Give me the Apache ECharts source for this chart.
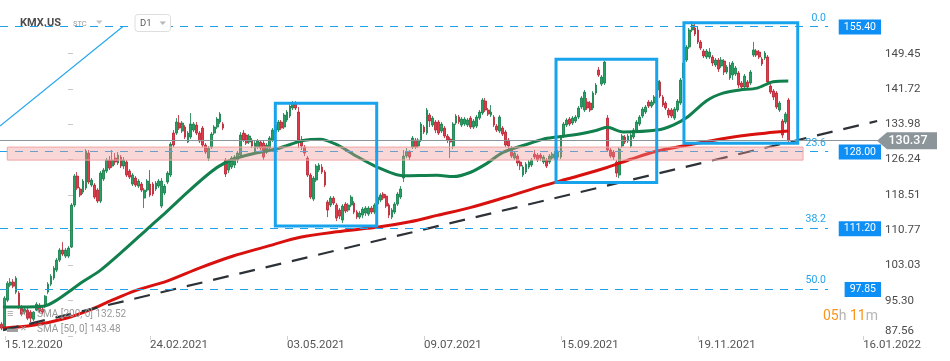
<!DOCTYPE html>
<html><head><meta charset="utf-8">
<script src="https://cdn.jsdelivr.net/npm/echarts@6/dist/echarts.min.js"></script>
<style>html,body{margin:0;padding:0;background:#fff}#c{width:950px;height:361px}</style>
</head><body><div id="c"></div>
<script>
// ---- data (candles: [open, close, low, high]) ----
const candles = [
[90.16,89.28,88.84,90.60],[89.28,95.86,88.84,96.30],[95.42,99.15,94.98,99.59],[98.71,99.37,98.27,100.25],[99.37,98.49,98.05,100.03],
[97.18,100.25,96.74,100.68],[96.96,94.11,93.45,97.39],[93.89,92.35,91.91,94.33],[92.79,93.45,92.35,93.89],[93.23,91.47,91.04,93.67],
[92.79,91.47,90.60,93.23],[91.25,92.79,90.82,93.01],[93.23,94.54,93.01,94.98],[94.33,93.01,92.57,94.76],[93.45,92.79,92.35,93.89],
[94.11,96.30,93.67,96.52],[97.18,98.93,96.74,99.37],[98.93,100.68,98.49,101.12],[100.25,102.44,99.81,102.88],[102.00,104.20,101.56,104.63],
[104.20,106.39,103.75,106.83],[106.39,105.51,105.07,108.14],[105.07,106.39,104.63,106.83],[105.07,106.83,104.63,107.26],[107.05,116.26,106.83,116.69],
[116.26,122.62,115.82,123.06],[122.62,119.99,119.55,123.49],[119.77,118.45,118.01,120.20],[119.11,121.52,118.67,121.96],[119.99,128.10,119.55,128.54],
[127.66,121.30,120.86,128.32],[120.64,121.74,120.20,122.18],[120.64,118.01,117.57,121.08],[119.55,117.13,116.69,119.99],[117.13,123.27,116.69,123.71],
[121.96,123.93,121.52,124.37],[123.71,126.13,123.27,126.56],[126.13,124.37,123.93,127.00],[124.81,126.13,124.37,128.32],[126.56,125.69,125.03,127.66],
[125.47,127.22,125.03,127.88],[126.78,124.81,124.37,127.22],[124.81,126.13,124.15,126.78],[125.69,122.84,122.40,126.13],[123.71,122.40,121.96,124.15],
[120.86,122.84,120.42,123.27],[122.18,120.64,120.20,122.62],[120.42,121.52,119.99,121.96],[120.86,119.55,119.11,121.30],[117.79,119.55,115.60,119.99],
[119.55,121.52,119.11,121.96],[120.86,118.45,118.01,123.93],[120.86,118.67,118.23,121.30],[119.77,121.08,119.33,121.52],[120.42,121.52,119.99,121.96],
[116.04,121.52,115.60,122.18],[118.89,120.42,118.45,120.86],[121.30,123.27,120.86,123.71],[122.84,129.63,122.40,130.07],[132.04,129.41,128.97,132.70],
[132.04,134.46,131.61,135.33],[134.24,133.14,132.70,135.99],[132.48,134.24,132.04,134.68],[133.36,131.17,130.73,133.80],[130.07,132.04,129.85,132.48],
[131.17,134.02,130.73,136.43],[132.70,134.02,132.26,134.46],[133.80,132.04,131.61,134.46],[132.04,130.29,129.85,132.48],[133.14,129.41,128.97,133.58],
[129.41,127.88,127.44,129.85],[126.56,128.76,125.91,129.19],[128.97,131.83,128.54,132.26],[132.04,133.36,131.61,133.80],[133.36,135.11,132.92,135.55],
[134.46,136.21,134.02,136.65],[134.02,133.14,132.70,134.46],[126.13,123.06,122.40,126.56],[123.93,125.91,123.27,126.34],[124.59,126.56,124.15,127.00],
[125.03,126.78,124.37,127.22],[126.13,127.66,125.47,128.10],[127.22,131.61,126.78,132.26],[132.04,130.51,130.07,132.70],[131.61,129.85,129.41,132.04],
[130.07,131.39,129.63,131.83],[130.51,129.19,128.76,130.95],[127.88,129.85,127.44,130.29],[128.97,130.29,128.54,130.73],[130.07,128.76,128.32,130.51],
[129.85,126.78,126.13,130.29],[127.88,129.41,127.44,129.85],[128.76,130.95,128.32,131.39],[130.51,132.70,130.07,133.14],[132.26,133.80,131.83,134.46],
[132.70,134.46,132.26,134.90],[134.46,133.14,132.70,134.90],[133.36,135.99,132.92,136.43],[134.90,136.65,134.46,137.09],[135.77,137.96,135.33,138.40],
[137.53,138.62,137.09,139.06],[138.40,137.53,137.09,139.06],[136.65,130.51,128.76,137.75],[130.51,129.19,128.32,131.39],[128.97,127.66,127.00,129.41],
[126.56,122.84,122.40,127.00],[122.84,118.01,117.57,123.27],[117.57,122.18,117.13,122.62],[121.74,124.81,121.30,125.25],[123.93,125.03,123.49,125.47],
[124.59,123.49,123.06,125.25],[123.49,120.64,120.20,123.93],[116.91,115.16,113.62,117.35],[116.26,117.79,115.82,118.23],[117.79,116.69,116.26,118.23],
[116.26,113.40,112.75,116.69],[115.16,113.84,113.18,115.60],[112.97,116.04,112.31,116.47],[116.47,114.94,114.50,116.91],[115.16,116.26,114.72,116.69],
[116.26,118.01,115.82,118.45],[116.69,114.72,114.28,117.13],[114.72,113.62,113.18,115.16],[113.62,114.50,113.18,114.94],[114.06,115.38,113.40,115.82],
[114.50,115.60,113.84,116.04],[114.28,115.60,113.84,116.04],[115.60,114.72,114.28,116.04],[114.72,116.26,114.28,116.69],[116.47,118.01,116.04,118.45],
[117.35,118.45,116.91,118.89],[118.67,117.79,117.35,119.11],[118.23,116.04,115.60,118.67],[116.26,114.06,113.40,116.69],[113.62,115.16,113.18,115.60],
[114.72,116.47,114.28,116.91],[116.47,118.67,116.04,119.11],[118.01,119.77,117.57,120.42],[122.18,127.00,121.30,128.32],[127.00,127.88,126.56,128.76],
[127.88,126.78,126.13,128.32],[128.97,130.95,128.54,131.39],[130.51,128.97,128.54,130.95],[129.19,130.51,128.76,130.95],[130.51,134.02,130.07,134.46],
[133.36,132.26,131.83,133.80],[132.04,137.09,131.61,137.53],[135.99,134.68,133.36,136.43],[133.80,135.33,133.36,135.77],[134.46,132.70,132.04,134.90],
[134.46,132.04,131.61,134.90],[132.48,134.02,132.04,134.46],[133.14,131.39,130.95,133.58],[131.39,130.51,129.85,131.83],[130.73,130.07,126.56,131.17],
[129.19,134.02,128.54,134.46],[134.24,135.77,133.80,136.21],[135.55,134.46,134.02,135.99],[133.80,135.11,133.36,135.55],[134.02,135.11,133.58,135.55],
[133.80,134.90,133.36,135.33],[135.33,133.36,132.92,135.77],[133.36,134.68,132.92,135.11],[133.58,135.55,133.14,135.99],[135.33,136.65,134.90,137.09],
[136.43,139.28,135.99,139.72],[139.06,137.09,136.65,139.72],[137.09,136.21,135.77,137.53],[135.99,136.65,135.55,138.18],[135.55,133.80,133.36,135.99],
[133.58,132.70,132.26,134.02],[132.48,135.55,132.04,135.99],[133.14,131.83,131.39,133.58],[132.26,129.41,128.97,132.70],[130.51,129.19,128.54,130.95],
[128.76,127.00,126.56,129.19],[126.56,127.66,126.13,128.10],[127.00,125.47,124.81,127.44],[125.69,124.81,123.93,126.13],[122.84,124.59,122.40,125.03],
[123.49,125.25,123.06,125.69],[124.59,125.69,124.15,126.13],[125.03,126.13,124.59,126.56],[127.44,126.78,126.34,128.32],[127.22,126.13,125.69,127.66],
[127.22,126.56,125.91,127.66],[125.69,126.78,125.25,127.22],[126.13,124.81,124.37,126.56],[125.69,127.00,125.25,127.44],[126.56,127.44,126.13,127.88],
[126.56,127.66,126.13,128.10],[126.78,127.88,126.13,128.32],[126.78,131.17,126.34,131.61],[131.39,134.02,130.95,134.46],[133.80,134.90,133.36,135.33],
[135.11,134.02,133.58,135.55],[134.24,135.33,133.80,135.77],[134.68,135.55,134.24,135.99],[135.55,137.53,135.11,137.96],[137.75,139.72,137.31,140.16],
[137.09,141.03,136.65,141.47],[138.84,137.53,137.09,139.72],[138.62,137.09,136.65,139.06],[137.53,140.82,137.09,141.25],[140.82,142.57,140.38,143.01],
[145.86,144.76,144.33,146.52],[142.79,144.33,142.35,144.76],[143.01,147.61,142.57,147.83],[135.33,128.32,127.88,135.99],[128.32,127.00,126.56,128.76],
[127.88,126.78,126.13,128.32],[125.69,123.27,122.40,126.13],[122.84,128.54,122.18,128.97],[129.19,131.39,128.76,131.83],[131.17,130.07,129.63,131.61],
[130.29,131.39,129.85,131.83],[129.19,131.61,128.76,132.04],[131.17,132.70,130.73,133.14],[132.70,134.46,132.26,134.90],[134.02,135.55,133.58,135.99],
[135.77,137.31,135.33,137.75],[136.65,137.75,136.21,138.18],[138.84,137.96,137.53,139.28],[137.96,138.84,137.53,139.28],[138.62,139.94,138.18,140.38],
[141.47,143.45,141.03,143.89],[143.23,140.16,139.72,143.67],[139.94,138.18,137.75,140.38],[138.62,137.53,137.09,139.06],[137.09,135.99,135.33,137.53],
[137.09,135.77,135.33,137.53],[135.33,137.31,134.90,137.75],[137.09,139.06,136.65,139.50],[138.62,143.67,138.18,144.11],[144.11,147.40,143.67,147.83],
[148.05,150.90,147.61,151.34],[150.90,154.63,150.47,155.07],[154.63,155.73,154.19,156.61],[155.07,153.75,153.32,156.17],[154.63,152.00,151.56,155.29],
[152.00,150.68,150.25,152.44],[150.03,148.93,148.49,150.47],[148.71,150.03,148.27,150.47],[148.71,149.81,148.27,150.68],[148.71,147.40,146.74,149.15],
[146.96,148.05,146.52,148.49],[148.05,146.08,145.42,148.49],[146.74,148.05,146.30,148.71],[147.83,145.42,144.76,148.27],[145.42,146.52,144.98,146.96],
[144.11,146.96,143.67,147.61],[144.76,147.40,143.67,147.83],[144.98,146.30,144.54,146.74],[145.20,142.57,141.91,145.64],[143.01,142.13,141.69,143.45],
[142.13,144.54,141.69,144.98],[143.23,142.13,141.69,143.67],[143.01,145.42,142.57,145.86],[149.15,150.25,148.71,152.00],[150.03,149.15,148.71,150.47],
[149.81,148.71,148.27,150.25],[148.27,147.18,146.74,148.71],[148.49,149.59,148.05,150.03],[148.71,143.23,142.79,149.15],[142.35,141.03,140.60,142.79],
[141.25,139.94,139.28,141.69],[140.82,137.75,137.31,141.25],[137.09,138.62,136.65,139.06],[134.68,131.61,130.95,135.11],[134.46,136.21,134.02,136.65],
[139.28,130.37,129.85,139.72]
];
const sma50 = [[0.5,93.9],[14.3,94.1],[18.4,95.2],[28,99.5],[33.8,101.9],[41.7,106.2],[50,111.0],[56.8,114.9],[63.7,119.0],[70.5,122.8],[75,124.9],[79.5,126.3],[86.3,127.5],[94.6,128.6],[103.5,130.4],[109.3,130.7],[115.1,129.5],[122,126.9],[128.9,124.6],[137.8,122.7],[149.5,122.8],[155,122.5],[160.8,123.4],[166.6,125.4],[172.1,127.8],[181.4,129.8],[187.2,130.9],[196.1,131.6],[204,132.6],[207.8,133.3],[213.3,132.3],[225,132.7],[230.5,133.8],[235.3,135.5],[242.1,139.2],[247.6,140.8],[253.4,141.5],[259.3,141.9],[264.8,143.3],[270,143.48]];
const sma200 = [[0.5,89.28],[10.8,89.9],[22.5,91.5],[30.4,93.3],[37.2,95.2],[46,97.5],[56.8,99.6],[68.1,102.5],[79.5,105.1],[91.1,107.2],[102.5,109.2],[115.1,110.4],[129.9,111.5],[140.2,112.6],[149.5,114.0],[160.8,115.7],[172.1,117.8],[184.8,120.3],[196,122.3],[207.8,124.5],[216,126.3],[225,128.1],[233.9,129.2],[243,130.3],[253.4,131.4],[264.8,132.2],[270,132.52]];
const trendLine = [[0.53,88.84],[300.5,134.68]];
const fanLine = [[-0.5,133.58],[41.7,155.4]];
const fibLevels = [155.40, 128.00, 111.20, 97.85];
const fibLabels = ['0.0', '23.6', '38.2', '50.0'];
const lastPrice = 130.37;
const smaLegend = ['SMA [200, 0] 132.52', 'SMA [50, 0] 143.48'];
const xTickIdx = [1.2, 51, 98, 145, 192, 239, 295.7];
const xTickLabels = ['15.12.2020', '24.02.2021', '03.05.2021', '09.07.2021', '15.09.2021', '19.11.2021', '16.01.2022'];
const yTicks = [87.56, 95.30, 103.03, 110.77, 118.51, 126.24, 133.98, 141.72, 149.45];
const zoneBand = [2.0, 128.97, 275.07, 126.12];
const boxes = [[93.98, 138.56, 128.77, 111.65], [190.3, 148.21, 224.86, 121.23], [234.2, 156.23, 273.25, 129.79]];

const FONT = 'Roboto, "Noto Sans", sans-serif';
const chart = echarts.init(document.getElementById('c'));
const candleData = candles.map((c, i) => [i, c[0], c[1], c[2], c[3]]);

const option = {
  animation: false,
  backgroundColor: '#ffffff',
  grid: { left: 0, right: 0, top: 0, bottom: 25, containLabel: false, outerBoundsMode: 'none' },
  xAxis: {
    type: 'value', min: -0.5, max: 325.5,
    axisLine: { show: false }, splitLine: { show: false },
    axisTick: { show: true, customValues: xTickIdx, length: 4, lineStyle: { color: '#d0d0d0' } },
    axisLabel: {
      customValues: xTickIdx, align: 'left', margin: 3, color: '#555', fontSize: 11.5, fontFamily: FONT,
      formatter: v => { let k = 0, d = 1e9; xTickIdx.forEach((t, j) => { if (Math.abs(t - v) < d) { d = Math.abs(t - v); k = j; } }); return xTickLabels[k]; }
    }
  },
  yAxis: {
    type: 'value', position: 'right', offset: -68, min: 87.56, max: 161.21,
    axisLine: { show: false }, splitLine: { show: false },
    axisTick: { show: true, customValues: yTicks, length: 5, lineStyle: { color: '#c8c8c8' } },
    axisLabel: {
      customValues: yTicks, margin: 3, color: '#4a4a4a', fontSize: 11.5, fontFamily: FONT,
      formatter: v => { const s = v.toFixed(2); return Math.abs(v - yTicks[0]) < 0.001 ? '{lo|' + s + '}' : s; },
      rich: { lo: { padding: [0, 0, 10, 0], color: '#4a4a4a', fontSize: 11.5, fontFamily: FONT } }
    }
  },
  series: [
    {
      type: 'candlestick', data: candleData, encode: { x: 0, y: [1, 2, 3, 4] }, barWidth: 2.3, z: 2,
      itemStyle: { color: '#27a065', color0: '#e23b4b', borderColor: '#0f7a45', borderColor0: '#b81d2d', borderWidth: 0.8 }
    },
    { type: 'line', data: sma200, smooth: 0.3, symbol: 'none', z: 3, lineStyle: { color: '#d8110f', width: 3 } },
    { type: 'line', data: sma50, smooth: 0.3, symbol: 'none', z: 3, lineStyle: { color: '#11804d', width: 3 } },
    {
      type: 'line', data: trendLine, symbol: 'none', z: 4, lineStyle: { color: '#2c3238', width: 2.2, type: [16, 11] },
      markLine: {
        silent: true, symbol: 'none', z: 5, label: { show: false },
        lineStyle: { color: '#1fa2ea', width: 1.2, type: [8, 7] },
        data: fibLevels.map(v => [{ coord: [-0.5, v] }, { coord: [283.7, v] }])
      },
      markArea: {
        silent: true, z: 10, label: { show: false },
        data: [
          [{ coord: [zoneBand[0], zoneBand[1]], itemStyle: { color: 'rgba(240,150,150,0.38)', borderColor: '#f1a5a5', borderWidth: 1 } }, { coord: [zoneBand[2], zoneBand[3]] }]
        ].concat(boxes.map(b => [{ coord: [b[0], b[1]], itemStyle: { color: 'rgba(0,0,0,0)', borderColor: '#17a4ec', borderWidth: 3 } }, { coord: [b[2], b[3]] }]))
      }
    },
    {
      type: 'line', data: fanLine, symbol: 'none', z: 4, lineStyle: { color: '#29a8ec', width: 1.2 },
      markLine: {
        silent: true, symbol: 'none', z: 6, label: { show: false },
        lineStyle: { color: '#8b959a', width: 1, type: 'solid' },
        data: [[{ coord: [-0.5, lastPrice] }, { coord: [300.8, lastPrice] }]]
      }
    }
  ]
};
chart.setOption(option);

const P = (i, v) => chart.convertToPixel({ gridIndex: 0 }, [i, v]);
const Y = v => P(0, v)[1];
const g = [];
// header
g.push({ type: 'text', z: 100, x: 20, y: 23, style: { text: 'KMX.US', font: 'bold 11px ' + FONT, fill: '#4d4d4d', verticalAlign: 'middle' } });
g.push({ type: 'text', z: 100, x: 73, y: 24.5, style: { text: 'STC', font: '7.5px ' + FONT, fill: '#9a9a9a', verticalAlign: 'middle' } });
g.push({ type: 'polygon', z: 100, shape: { points: [[96, 20.5], [102.5, 20.5], [99.25, 24]] }, style: { fill: '#c4c4c4' } });
g.push({ type: 'rect', z: 100, shape: { x: 135, y: 14.5, width: 35.5, height: 17, r: 3 }, style: { fill: '#fff', stroke: '#dedede', lineWidth: 1 } });
g.push({ type: 'text', z: 101, x: 140, y: 23.5, style: { text: 'D1', font: '9.5px ' + FONT, fill: '#5a5a5a', verticalAlign: 'middle' } });
g.push({ type: 'polygon', z: 101, shape: { points: [[159.5, 21.5], [166, 21.5], [162.75, 25]] }, style: { fill: '#b8b8b8' } });
// fib labels
fibLevels.forEach((v, k) => {
  g.push({ type: 'text', z: 100, x: 826, y: Y(v) - 8.5, style: { text: fibLabels[k], font: '10.5px ' + FONT, fill: '#22a3ea', align: 'right', verticalAlign: 'middle' } });
  g.push({ type: 'text', z: 100, x: 881, y: Y(v) + 0.5, style: { text: v.toFixed(2), font: '10.5px ' + FONT, fill: '#ffffff', align: 'right', verticalAlign: 'middle', backgroundColor: '#0d8ff5', padding: [2, 5, 1, 5], lineHeight: 12 } });
});
// last price tag
const ly = Y(lastPrice);
g.push({ type: 'polygon', z: 100, shape: { points: [[877, ly], [887, ly - 8.5], [937, ly - 8.5], [937, ly + 8.5], [887, ly + 8.5]] }, style: { fill: '#8b959a' } });
g.push({ type: 'text', z: 101, x: 908, y: ly + 0.5, style: { text: lastPrice.toFixed(2), font: '500 12.5px ' + FONT, fill: '#ffffff', align: 'center', verticalAlign: 'middle' } });
// SMA legend
smaLegend.forEach((t, k) => {
  const yy = 314 + k * 15;
  g.push({ type: 'text', z: 100, x: 7, y: yy, style: { text: k === 0 ? '\u2261' : '\u25AC', font: '11px ' + FONT, fill: '#a0a0a0', verticalAlign: 'middle' } });
  g.push({ type: 'text', z: 100, x: 20, y: yy, style: { text: '\u2715', font: '8px ' + FONT, fill: '#a0a0a0', verticalAlign: 'middle' } });
  g.push({ type: 'text', z: 100, x: 37, y: yy, style: { text: t, font: '10px ' + FONT, fill: '#999999', verticalAlign: 'middle' } });
});
// countdown
g.push({ type: 'text', z: 100, x: 823, y: 316, style: { text: '{o|05}{g|h }{o|11}{g|m}', verticalAlign: 'middle',
  rich: { o: { fill: '#f7941d', font: '14px ' + FONT }, g: { fill: '#b5b5b5', font: '14px ' + FONT } } } });
chart.setOption({ graphic: g });
</script>
</body></html>
